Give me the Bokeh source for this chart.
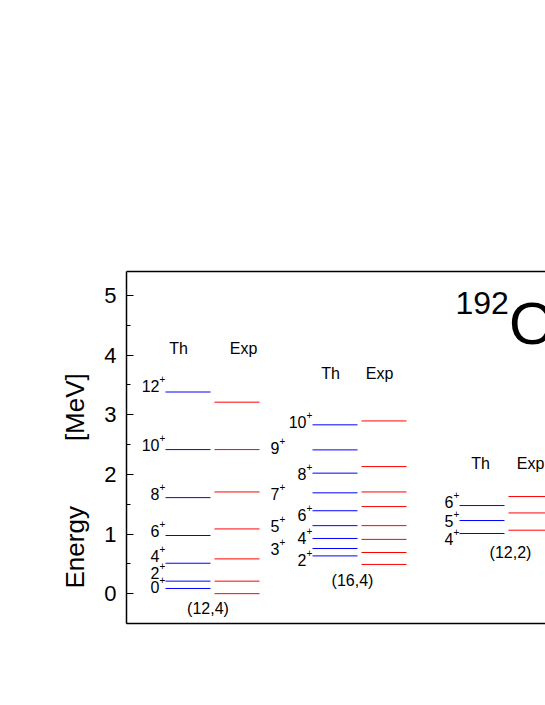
from bokeh.plotting import figure
from bokeh.models import Range1d, FixedTicker, LinearAxis, Title, ColumnDataSource
from bokeh.core.properties import value
from bokeh.embed import file_html
from bokeh.resources import INLINE

FONT = "Liberation Sans"

# ---------------- data ----------------
band_names = ["(12,4)", "(16,4)", "(12,2)"]
column_titles = ["Th", "Exp"]

g1_spin = [0, 2, 4, 6, 8, 10, 12]
g1_th = [0.087, 0.21, 0.51, 0.975, 1.61, 2.415, 3.38]
g1_exp = [0.0, 0.21, 0.583, 1.085, 1.705, 2.415, 3.21]

g2_spin = [2, 3, 4, 5, 6, 7, 8, 9, 10]
g2_th = [0.633, 0.757, 0.925, 1.14, 1.39, 1.69, 2.02, 2.41, 2.83]
g2_exp = [0.49, 0.69, 0.91, 1.14, 1.46, 1.705, 2.13, None, 2.895]

g3_spin = [4, 5, 6]
g3_th = [1.008, 1.226, 1.477]
g3_exp = [1.064, 1.353, 1.628]

mass_number = "192"
element = "Os"
y_ticks = [0, 1, 2, 3, 4, 5]
y_minor = [-0.5, 0.5, 1.5, 2.5, 3.5, 4.5]
y_title = "Energy" + "\u00a0" * 9 + "[MeV]"

# ---------------- layout helpers ----------------
U = 147.0            # px per group step
HW = 22.5 / U        # half width of a level line
EXP = 49.0 / U       # offset of the Exp column

p = figure(width=545, height=700, output_backend="svg", toolbar_location=None,
           x_range=Range1d(-61.5 / U, 357.5 / U), y_range=Range1d(-0.5, 5.4),
           min_border_left=126, min_border_right=0, min_border_top=271,
           min_border_bottom=77)
p.outline_line_color = None
p.grid.visible = False
p.background_fill_color = "white"
p.border_fill_color = "white"

# y axis
ya = p.yaxis[0]
ya.ticker = FixedTicker(ticks=y_ticks, minor_ticks=y_minor)
ya.major_label_text_font = FONT
ya.major_label_text_font_size = "22px"
ya.major_label_text_color = "black"
ya.major_label_standoff = 10
ya.axis_line_width = 1.5
ya.axis_line_color = "black"
ya.major_tick_in = 7
ya.major_tick_out = 0
ya.minor_tick_in = 4
ya.minor_tick_out = 0
ya.major_tick_line_color = "black"
ya.minor_tick_line_color = "black"

# y title (starts a little above the frame bottom)
p.add_layout(Title(text=y_title, align="left", offset=35, standoff=24,
                   text_font=FONT, text_font_size="26px",
                   text_font_style="normal", text_color="black"), "left")

# bottom and top frame lines
def frame_axis(ax):
    ax.major_tick_in = 0
    ax.major_tick_out = 0
    ax.minor_tick_in = 0
    ax.minor_tick_out = 0
    ax.major_tick_line_color = None
    ax.minor_tick_line_color = None
    ax.major_label_text_font_size = "0px"
    ax.major_label_text_color = None
    ax.axis_line_width = 1.5
    ax.axis_line_color = "black"

frame_axis(p.xaxis[0])
top = LinearAxis()
frame_axis(top)
p.add_layout(top, "above")

# level lines
groups = [(g1_spin, g1_th, g1_exp), (g2_spin, g2_th, g2_exp), (g3_spin, g3_th, g3_exp)]
for g, (spins, th, ex) in enumerate(groups):
    p.segment(x0=[g - HW] * len(th), x1=[g + HW] * len(th), y0=th, y1=th,
              line_color="#0000ff", line_width=1)
    ey = [e for e in ex if e is not None]
    p.segment(x0=[g + EXP - HW] * len(ey), x1=[g + EXP + HW] * len(ey), y0=ey, y1=ey,
              line_color="#ff0000", line_width=1)

# spin labels (vertical nudges in px)
label_dy = [
    {0: -1, 2: -8, 4: -7, 6: -5, 8: -4, 10: -5, 12: -6},
    {2: 4, 3: 0, 4: 0, 5: 0, 6: 4, 7: 1, 8: 1, 9: -2, 10: -3},
    {4: 5, 5: 0, 6: -4},
]
xs, ys, txt, dxs, dys = [], [], [], [], []
for g, (spins, th, ex) in enumerate(groups):
    for s, e in zip(spins, th):
        xs.append(g - HW)
        ys.append(e)
        txt.append(str(s))
        dxs.append(-33 if (g == 1 and s % 2 == 1) else -6)
        dys.append(label_dy[g][s])
src = ColumnDataSource(dict(x=xs, y=ys, t=txt, dx=dxs, dy=dys,
                            dyp=[d - 7 for d in dys]))
p.text(x="x", y="y", text="t", x_offset="dx", y_offset="dy", source=src,
       text_font=value(FONT), text_font_size="16px", text_align="right",
       text_baseline="middle", text_color="black")
p.text(x="x", y="y", text=value("+"), x_offset="dx", y_offset="dyp", source=src,
       text_font=value(FONT), text_font_size="10px", text_align="left",
       text_baseline="middle", text_color="black")

# column titles
hx = [-9.5 / U, 55.5 / U, 1 - 4.5 / U, 1 + 44.5 / U, 2 - 1.5 / U, 2 + 48.5 / U]
hy = [4.11, 4.11, 3.69, 3.69, 2.19, 2.19]
p.text(x=hx, y=hy, text=column_titles * 3, text_font=value(FONT),
       text_font_size="16px", text_align="center", text_baseline="middle",
       text_color="black")

# band names
p.text(x=[20 / U, 1 + 17.5 / U, 2 + 28.5 / U], y=[-0.245, 0.226, 0.695],
       text=band_names, text_font=value(FONT), text_font_size="16px",
       text_align="center", text_baseline="middle", text_color="black")

# nucleus name
p.text(x=[267.5 / U], y=[4.874], text=[mass_number], text_font=value(FONT),
       text_font_size="32px", text_align="left", text_baseline="middle",
       text_color="black")
p.text(x=[321 / U], y=[4.53], text=[element], text_font=value(FONT),
       text_font_size="60px", text_align="left", text_baseline="middle",
       text_color="black")

open("out.html", "w").write(file_html(p, INLINE))
